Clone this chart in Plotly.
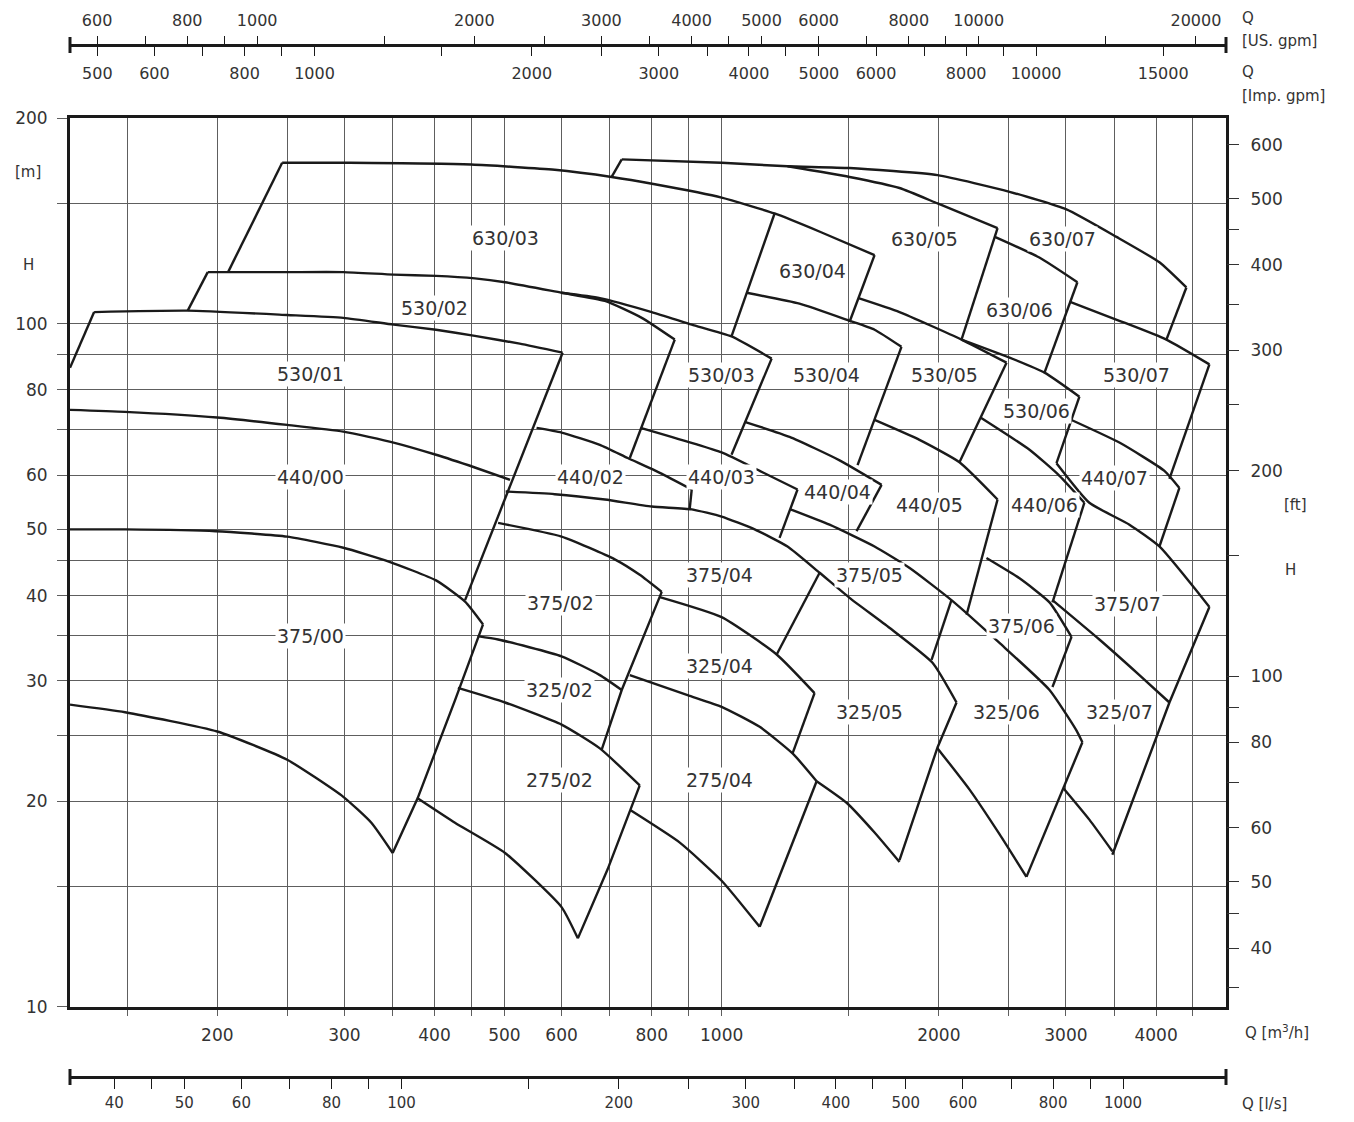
import math
import plotly.graph_objects as go

# ---------------- axis tick data ----------------
q_grid = [150, 200, 250, 300, 350, 400, 450, 500, 600, 700, 800, 900, 1000,
          1500, 2000, 2500, 3000, 3500, 4000, 4500]
q_labeled = [200, 300, 400, 500, 600, 800, 1000, 2000, 3000, 4000]

h_grid = [10, 15, 20, 25, 30, 35, 40, 45, 50, 60, 70, 80, 90, 100, 150, 200]
h_labeled = [10, 20, 30, 40, 50, 60, 80, 100, 200]

ft_ticks = [35, 40, 45, 50, 60, 70, 80, 90, 100, 150, 200, 250, 300, 350, 400, 450, 500, 600]
ft_labeled = [40, 50, 60, 80, 100, 200, 300, 400, 500, 600]

us_ticks = [600, 700, 800, 900, 1000, 1500, 2000, 2500, 3000, 3500, 4000, 4500, 5000,
            6000, 7000, 8000, 9000, 10000, 15000, 20000]
us_labeled = [600, 800, 1000, 2000, 3000, 4000, 5000, 6000, 8000, 10000, 20000]

imp_ticks = [500, 600, 700, 800, 900, 1000, 1500, 2000, 2500, 3000, 3500, 4000, 4500,
             5000, 6000, 7000, 8000, 9000, 10000, 15000]
imp_labeled = [500, 600, 800, 1000, 2000, 3000, 4000, 5000, 6000, 8000, 10000, 15000]

ls_ticks = [40, 45, 50, 60, 70, 80, 90, 100, 150, 200, 250, 300, 350, 400, 450, 500,
            600, 700, 800, 900, 1000]
ls_labeled = [40, 50, 60, 80, 100, 200, 300, 400, 500, 600, 800, 1000]

Q_MIN, Q_MAX = 125, 5000      # m3/h
H_MIN, H_MAX = 10, 200        # m
M_TO_FT = 0.3048
US_GPM = 4.402868             # per m3/h
IMP_GPM = 3.666154            # per m3/h
LS = 1 / 3.6                  # l/s per m3/h

# ---------------- pump range lines (Q [m3/h], H [m]) ----------------
# 630 family
q_630_03_left = [207, 246];                      h_630_03_left = [119, 172]
q_630_03_top = [246, 305, 450, 587, 704, 808, 1000, 1184, 1376, 1629]
h_630_03_top = [172, 172, 171, 168, 164, 160, 153, 145, 136, 126]
q_630_05_left = [704, 727];                      h_630_05_left = [164, 174]
q_630_07_top = [727, 1000, 1234, 1504, 1992, 2506, 3005, 3525, 4043, 4406]
h_630_07_top = [174, 172, 170, 169, 165, 156, 147, 134, 123, 113]
q_630_05_top = [1234, 1504, 1764, 1992, 2412]
h_630_05_top = [170, 164, 158, 150, 138]
q_630_03_right = [1184, 1032];                   h_630_03_right = [145, 95.8]
q_630_04_right = [1629, 1504];                   h_630_04_right = [126, 100.6]
q_630_05_right = [2412, 2150];                   h_630_05_right = [138, 94.8]
q_630_06_top = [2391, 2756, 3112];               h_630_06_top = [134, 125, 115]
q_630_06_right = [3112, 2802];                   h_630_06_right = [115, 84.8]
q_630_07_right = [4406, 4134];                   h_630_07_right = [113, 94.8]

# 530 family
q_530_01_left = [125, 135];                      h_530_01_left = [86.2, 104]
q_530_01_top = [135, 182, 250, 299, 351, 402, 455, 525, 602]
h_530_01_top = [104, 104.5, 103, 102, 99.7, 98, 96, 93.5, 90.7]
q_530_01_right = [602, 441];                     h_530_01_right = [90.7, 39.4]
q_530_02_left = [182, 194];                      h_530_02_left = [104.5, 119]
q_530_02_top = [194, 250, 299, 351, 402, 455, 501, 600, 689, 775, 861]
h_530_02_top = [119, 119, 119, 118, 117.5, 116.5, 115, 111, 108, 102, 94.8]
q_530_03_top = [600, 678, 800, 909, 1032, 1173]
h_530_03_top = [111, 109, 104, 99.7, 95.8, 88.9]
q_530_02_right = [861, 746];                     h_530_02_right = [94.8, 63.6]
q_530_03_right = [1173, 1032];                   h_530_03_right = [88.9, 64.3]
q_530_04_top = [1083, 1282, 1504, 1629, 1775];   h_530_04_top = [111, 107, 101, 98, 92.5]
q_530_04_right = [1775, 1543];                   h_530_04_right = [92.5, 62.1]
q_530_05_top = [1548, 1764, 2150, 2482];         h_530_05_top = [109, 104, 94.8, 87.7]
q_530_05_right = [2482, 2136];                   h_530_05_right = [87.7, 62.7]
q_530_06_top = [2150, 2506, 2802, 3132];         h_530_06_top = [94.8, 89.2, 84.8, 78.2]
q_530_06_right = [3132, 2911];                   h_530_06_right = [78.2, 62.5]
q_530_07_top = [3034, 3558, 4134, 4742];         h_530_07_top = [107.7, 101, 94.8, 87.2]
q_530_07_right = [4742, 4174];                   h_530_07_right = [87.2, 59.3]

# 440 family
q_440_00_top = [125, 149, 200, 250, 299, 351, 402, 455, 509]
h_440_00_top = [74.8, 74.3, 72.9, 71.1, 69.5, 67.0, 64.3, 61.6, 59.1]
q_440_02_top = [554, 600, 678, 741, 821, 909];   h_440_02_top = [70.4, 69.3, 66.5, 63.6, 60.5, 57.2]
q_440_02_right = [909, 903];                     h_440_02_right = [57.2, 53.5]
q_440_03_top = [772, 1000, 1129, 1274];          h_440_03_top = [70.4, 64.8, 60.9, 57.2]
q_440_03_right = [1274, 1203];                   h_440_03_right = [57.2, 48.6]
q_440_04_top = [1079, 1242, 1457, 1666];         h_440_04_top = [71.8, 68.3, 63.1, 58.1]
q_440_04_right = [1666, 1538];                   h_440_04_right = [58.1, 49.7]
q_440_05_top = [1629, 1880, 2136, 2412];         h_440_05_top = [72.3, 67.6, 62.7, 55.3]
q_440_05_right = [2412, 2297, 2185];             h_440_05_right = [55.3, 45.5, 37.5]
q_440_06_top = [2284, 2671, 2939, 3182];         h_440_06_top = [72.9, 65.4, 59.9, 54.7]
q_440_06_right = [3182, 2874];                   h_440_06_right = [54.7, 39.1]
q_440_07_top = [3054, 3558, 4108, 4309];         h_440_07_top = [72.3, 67.0, 60.9, 57.5]
q_440_07_right = [4309, 4043];                   h_440_07_right = [57.5, 47.2]

# 375 family
q_375_00_top = [125, 149, 199, 250, 299, 345, 402, 441, 467]
h_375_00_top = [50, 50, 49.7, 48.8, 47.0, 44.9, 42.1, 39.2, 36.3]
q_375_00_right = [467, 427, 379, 350];           h_375_00_right = [36.3, 28.1, 20.2, 16.8]
q_375_04_top = [502, 587, 689, 800, 909, 1000, 1111, 1234, 1367, 1504, 1708, 1960, 2116]
h_375_04_top = [56.8, 56.3, 55.3, 54.0, 53.5, 52.2, 50.0, 47.2, 43.2, 39.7, 35.9, 31.9, 27.9]
q_375_02_top = [490, 600, 711, 770, 826];        h_375_02_top = [51.1, 48.8, 45.2, 42.9, 40.5]
q_375_02_right = [826, 727, 682];                h_375_02_right = [40.5, 29.1, 23.8]
q_375_04_right = [1367, 1192];                   h_375_04_right = [43.2, 32.8]
q_375_05_top = [1246, 1411, 1629, 1822, 2082, 2427, 2847, 3102, 3162]
h_375_05_top = [53.5, 50.8, 47.2, 43.9, 39.4, 34.1, 29.1, 25.4, 24.4]
q_375_05_right = [2082, 1954];                   h_375_05_right = [39.4, 32.2]
q_375_06_top = [2328, 2587, 2847, 3054];         h_375_06_top = [45.4, 42.4, 39.1, 34.8]
q_375_06_right = [3054, 2874];                   h_375_06_right = [34.8, 29.4]
q_375_07_top = [2911, 3233, 3674, 4043, 4742];   h_375_07_top = [62.5, 54.7, 50.8, 47.2, 38.5]
q_375_07_right = [4742, 4174, 3479];             h_375_07_right = [38.5, 27.9, 16.7]

# 325 family
q_325_02_top = [459, 490, 600, 678, 727];        h_325_02_top = [34.9, 34.5, 32.6, 30.6, 29.1]
q_325_04_top = [821, 1000, 1192, 1345];          h_325_04_top = [39.8, 37.2, 32.8, 28.8]
q_325_04_right = [1345, 1254];                   h_325_04_right = [28.8, 23.5]
q_325_05_right = [2116, 1992, 1764];             h_325_05_right = [27.9, 24.0, 16.4]
q_325_05_bottom = [1354, 1490, 1629, 1764];      h_325_05_bottom = [21.4, 19.9, 18.0, 16.3]
q_325_06_bottom = [1992, 2206, 2427, 2645];      h_325_06_bottom = [23.9, 20.8, 17.9, 15.5]
q_325_06_right = [3162, 2645];                   h_325_06_right = [24.4, 15.5]
q_325_07_top = [2874, 3338, 3793, 4174];         h_325_07_top = [39.4, 34.5, 30.6, 27.9]
q_325_07_bottom = [2976, 3233, 3479];            h_325_07_bottom = [20.9, 18.8, 16.9]

# 275 family and lowest curve
q_275_02_top = [431, 501, 600, 678, 770];        h_275_02_top = [29.3, 27.9, 25.9, 23.9, 21.1]
q_275_02_right = [770, 695, 632];                h_275_02_right = [21.1, 15.9, 12.6]
q_275_02_bottom = [379, 427, 501, 600, 632];     h_275_02_bottom = [20.2, 18.6, 16.8, 14.0, 12.6]
q_275_04_top = [746, 897, 1000, 1129, 1254, 1354]
h_275_04_top = [30.6, 28.6, 27.5, 25.7, 23.5, 21.4]
q_275_04_right = [1354, 1129];                   h_275_04_right = [21.4, 13.1]
q_275_04_bottom = [748, 875, 1000, 1129];        h_275_04_bottom = [19.4, 17.4, 15.3, 13.1]
q_375_00_bottom = [125, 149, 200, 250, 299, 327, 350]
h_375_00_bottom = [27.7, 27.0, 25.3, 23.0, 20.3, 18.6, 16.8]

# ---------------- region labels ----------------
label_text = ["630/03", "630/04", "630/05", "630/07", "630/06",
              "530/02", "530/01", "530/03", "530/04", "530/05", "530/06", "530/07",
              "440/00", "440/02", "440/03", "440/04", "440/05", "440/06", "440/07",
              "375/00", "375/02", "375/04", "375/05", "375/06", "375/07",
              "325/02", "325/04", "325/05", "325/06", "325/07",
              "275/02", "275/04"]
label_q = [501, 1337, 1911, 2967, 2587,
           400, 269, 1000, 1397, 2036, 2731, 3757,
           269, 659, 1000, 1447, 1942, 2802, 3501,
           269, 598, 994, 1603, 2603, 3650,
           597, 994, 1603, 2482, 3558,
           597, 994]
label_h = [133.6, 119.6, 133, 133, 104.8,
           105.5, 84.5, 84.2, 84.0, 84.0, 74.6, 84.0,
           59.7, 59.7, 59.7, 56.8, 54.3, 54.3, 59.5,
           34.9, 39.0, 42.9, 42.9, 36.1, 38.9,
           29.1, 31.5, 27.0, 27.0, 27.0,
           21.5, 21.5]

curved = [
    (q_630_03_top, h_630_03_top), (q_630_07_top, h_630_07_top), (q_630_05_top, h_630_05_top),
    (q_630_06_top, h_630_06_top),
    (q_530_01_top, h_530_01_top), (q_530_02_top, h_530_02_top), (q_530_03_top, h_530_03_top),
    (q_530_04_top, h_530_04_top), (q_530_05_top, h_530_05_top), (q_530_06_top, h_530_06_top),
    (q_530_07_top, h_530_07_top),
    (q_440_00_top, h_440_00_top), (q_440_02_top, h_440_02_top), (q_440_03_top, h_440_03_top),
    (q_440_04_top, h_440_04_top), (q_440_05_top, h_440_05_top), (q_440_06_top, h_440_06_top),
    (q_440_07_top, h_440_07_top),
    (q_375_00_top, h_375_00_top), (q_375_04_top, h_375_04_top), (q_375_02_top, h_375_02_top),
    (q_375_05_top, h_375_05_top), (q_375_06_top, h_375_06_top), (q_375_07_top, h_375_07_top),
    (q_325_02_top, h_325_02_top), (q_325_04_top, h_325_04_top), (q_325_05_bottom, h_325_05_bottom),
    (q_325_06_bottom, h_325_06_bottom), (q_325_07_top, h_325_07_top),
    (q_325_07_bottom, h_325_07_bottom),
    (q_275_02_top, h_275_02_top), (q_275_02_bottom, h_275_02_bottom),
    (q_275_04_top, h_275_04_top), (q_275_04_bottom, h_275_04_bottom),
    (q_375_00_bottom, h_375_00_bottom),
]
straight = [
    (q_630_03_left, h_630_03_left), (q_630_05_left, h_630_05_left),
    (q_630_03_right, h_630_03_right), (q_630_04_right, h_630_04_right),
    (q_630_05_right, h_630_05_right), (q_630_06_right, h_630_06_right),
    (q_630_07_right, h_630_07_right),
    (q_530_01_left, h_530_01_left), (q_530_01_right, h_530_01_right),
    (q_530_02_left, h_530_02_left), (q_530_02_right, h_530_02_right),
    (q_530_03_right, h_530_03_right), (q_530_04_right, h_530_04_right),
    (q_530_05_right, h_530_05_right), (q_530_06_right, h_530_06_right),
    (q_530_07_right, h_530_07_right),
    (q_440_02_right, h_440_02_right), (q_440_03_right, h_440_03_right),
    (q_440_04_right, h_440_04_right), (q_440_05_right, h_440_05_right),
    (q_440_06_right, h_440_06_right), (q_440_07_right, h_440_07_right),
    (q_375_00_right, h_375_00_right), (q_375_02_right, h_375_02_right),
    (q_375_04_right, h_375_04_right), (q_375_05_right, h_375_05_right),
    (q_375_06_right, h_375_06_right), (q_375_07_right, h_375_07_right),
    (q_325_04_right, h_325_04_right), (q_325_05_right, h_325_05_right),
    (q_325_06_right, h_325_06_right),
    (q_275_02_right, h_275_02_right), (q_275_04_right, h_275_04_right),
]

# ---------------- figure geometry (screen pixels; page body adds 8 px) ----------------
OFF = 8
W, HT = 1354 - 2 * OFF, 1122 - 2 * OFF
PLOT_L, PLOT_R = 70, 1226          # screen x of plot frame
PAPER_T, PAPER_B = 10, 1112        # screen y of paper region
ML = PLOT_L - OFF
MR = W - (PLOT_R - OFF)
MT = PAPER_T - OFF
MB = HT - (PAPER_B - OFF)
PH = PAPER_B - PAPER_T
PW = PLOT_R - PLOT_L


def py(p):
    return (PAPER_B - p) / PH


def px(p):
    return (p - PLOT_L) / PW


def ttext(vals, labeled):
    return [f"{v}" if v in labeled else "" for v in vals]


LINE = "#1a1a1a"
GRID = "#5e5e5e"
TXT = "#333333"
FONT = "DejaVu Sans"
TICKFONT = dict(family=FONT, size=17, color=TXT)
AUXFONT = dict(family=FONT, size=16, color=TXT)
LSFONT = dict(family=FONT, size=15, color=TXT)

fig = go.Figure()
for q, h in curved:
    fig.add_trace(go.Scatter(x=q, y=h, mode="lines", hoverinfo="skip", showlegend=False,
                             line=dict(color=LINE, width=2.4, shape="spline", smoothing=0.5)))
for q, h in straight:
    fig.add_trace(go.Scatter(x=q, y=h, mode="lines", hoverinfo="skip", showlegend=False,
                             line=dict(color=LINE, width=2.4)))

# invisible helpers so that the secondary scales are rendered
hidden = dict(mode="markers", marker=dict(opacity=0, size=1), hoverinfo="skip", showlegend=False)
fig.add_trace(go.Scatter(x=[Q_MIN * US_GPM, Q_MAX * US_GPM], y=[H_MIN, H_MIN], xaxis="x2", yaxis="y", **hidden))
fig.add_trace(go.Scatter(x=[Q_MIN * IMP_GPM, Q_MAX * IMP_GPM], y=[H_MIN, H_MIN], xaxis="x3", yaxis="y", **hidden))
fig.add_trace(go.Scatter(x=[Q_MIN * LS, Q_MAX * LS], y=[H_MIN, H_MIN], xaxis="x4", yaxis="y", **hidden))
fig.add_trace(go.Scatter(x=[Q_MIN, Q_MIN], y=[H_MIN / M_TO_FT, H_MAX / M_TO_FT], xaxis="x", yaxis="y2", **hidden))

dom = [py(1007), py(118)]
common = dict(automargin=False, zeroline=False)

fig.update_layout(
    width=W, height=HT,
    margin=dict(l=ML, r=MR, t=MT, b=MB, autoexpand=False),
    paper_bgcolor="white", plot_bgcolor="white",
    showlegend=False,
    xaxis=dict(type="log", range=[math.log10(Q_MIN), math.log10(Q_MAX)],
               tickmode="array", tickvals=q_grid, ticktext=ttext(q_grid, q_labeled),
               showgrid=True, gridcolor=GRID, gridwidth=1.3,
               ticks="outside", ticklen=6, tickcolor=GRID, tickwidth=1.3,
               showline=True, linecolor=LINE, linewidth=2.5, mirror=True,
               tickfont=TICKFONT, ticklabelstandoff=5, anchor="y", **common),
    yaxis=dict(type="log", domain=dom,
               range=[math.log10(H_MIN) - 1e-4, math.log10(H_MAX) + 1e-4],
               tickmode="array", tickvals=h_grid, ticktext=ttext(h_grid, h_labeled),
               showgrid=True, gridcolor=GRID, gridwidth=1.3,
               ticks="outside", ticklen=10, tickcolor=GRID, tickwidth=1.3,
               showline=True, linecolor=LINE, linewidth=3, mirror=True,
               tickfont=TICKFONT, ticklabelstandoff=6, anchor="x", **common),
    yaxis2=dict(type="log", overlaying="y", side="right", anchor="x",
                range=[math.log10(H_MIN / M_TO_FT), math.log10(H_MAX / M_TO_FT)],
                tickmode="array", tickvals=ft_ticks, ticktext=ttext(ft_ticks, ft_labeled),
                showgrid=False, ticks="outside", ticklen=12, tickcolor=TXT, tickwidth=1.3,
                showline=False, tickfont=TICKFONT, ticklabelstandoff=8, **common),
    xaxis2=dict(type="log", overlaying="x", anchor="free", position=py(45), side="top",
                range=[math.log10(Q_MIN * US_GPM), math.log10(Q_MAX * US_GPM)],
                tickmode="array", tickvals=us_ticks, ticktext=ttext(us_ticks, us_labeled),
                showgrid=False, ticks="outside", ticklen=8, tickcolor=LINE, tickwidth=1.3,
                showline=True, linecolor=LINE, linewidth=2.5,
                tickfont=AUXFONT, ticklabelstandoff=4, **common),
    xaxis3=dict(type="log", overlaying="x", anchor="free", position=py(45), side="bottom",
                range=[math.log10(Q_MIN * IMP_GPM), math.log10(Q_MAX * IMP_GPM)],
                tickmode="array", tickvals=imp_ticks, ticktext=ttext(imp_ticks, imp_labeled),
                showgrid=False, ticks="outside", ticklen=10, tickcolor=LINE, tickwidth=1.3,
                showline=False, tickfont=AUXFONT, ticklabelstandoff=4, **common),
    xaxis4=dict(type="log", overlaying="x", anchor="free", position=py(1077), side="bottom",
                range=[math.log10(Q_MIN * LS), math.log10(Q_MAX * LS)],
                tickmode="array", tickvals=ls_ticks, ticktext=ttext(ls_ticks, ls_labeled),
                showgrid=False, ticks="outside", ticklen=10, tickcolor=LINE, tickwidth=1.3,
                showline=True, linecolor=LINE, linewidth=2.5,
                tickfont=LSFONT, ticklabelstandoff=1, **common),
)

# end caps of the auxiliary scales
for yc in (45, 1077):
    for xc in (0, 1):
        fig.add_shape(type="line", xref="paper", yref="paper", x0=xc, x1=xc,
                      y0=py(yc - 8), y1=py(yc + 8), line=dict(color=LINE, width=3))

# region labels
for t, q, h in zip(label_text, label_q, label_h):
    fig.add_annotation(x=math.log10(q), y=math.log10(h), xref="x", yref="y", text=t,
                       showarrow=False, bgcolor="white", borderpad=1,
                       font=dict(family=FONT, size=19, color=TXT))

# axis captions
caps = [
    ("Q", 1240, 18, "left"), ("[US. gpm]", 1240, 41, "left"),
    ("Q", 1240, 72, "left"), ("[Imp. gpm]", 1240, 96, "left"),
    ("Q [m<sup>3</sup>/h]", 1243, 1032, "left"), ("Q [l/s]", 1240, 1104, "left"),
    ("[m]", 28, 172, "center"), ("H", 28, 265, "center"),
    ("[ft]", 1295, 505, "center"), ("H", 1290, 570, "center"),
]
for t, x, y, xa in caps:
    fig.add_annotation(x=px(x), y=py(y), xref="paper", yref="paper", text=t, showarrow=False,
                       xanchor=xa, yanchor="middle", font=dict(family=FONT, size=15, color=TXT))

fig.write_html("out.html")
